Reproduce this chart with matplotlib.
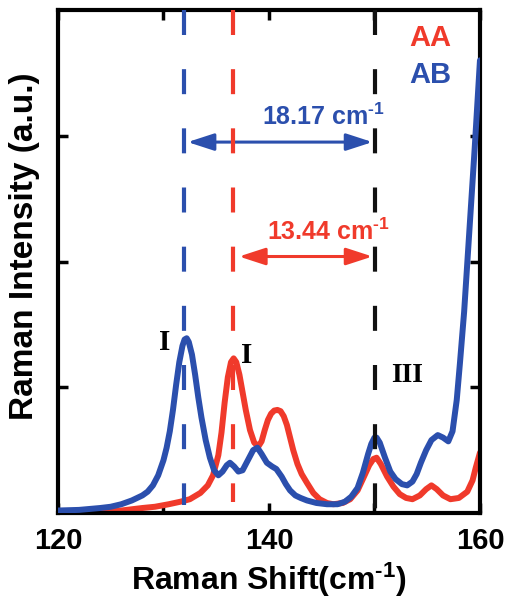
import matplotlib
matplotlib.use("Agg")
import matplotlib.pyplot as plt

# ---- spectra (Raman shift in cm^-1, intensity in a.u.) ----
ab_shift = [120, 122, 124, 125, 126, 127, 128, 128.5, 129, 129.5, 130, 130.3,
            130.6, 130.9, 131.2, 131.5, 131.8, 132.0, 132.2, 132.4, 132.7,
            133.0, 133.3, 133.6, 134.0, 134.4, 134.8, 135.2, 135.6, 136.0,
            136.3, 136.7, 137.1, 137.5, 138.0, 138.5, 138.9, 139.3, 139.8,
            140.3, 140.7, 141.2, 141.6, 142.0, 142.5, 143.0, 143.6, 144.5,
            145.5, 146.5, 147.2, 147.8, 148.4, 148.9, 149.4, 149.7, 150.0,
            150.2, 150.5, 151.0, 151.5, 152.0, 152.6, 153.1, 153.6, 154.0,
            154.4, 154.9, 155.4, 156.0, 156.5, 157.0, 157.4, 157.8, 158.1,
            158.5, 158.8, 159.2, 159.5, 159.7, 160.0]
ab_intensity = [0.02, 0.025, 0.04, 0.05, 0.07, 0.10, 0.14, 0.17, 0.22, 0.30,
                0.42, 0.52, 0.65, 0.82, 1.02, 1.20, 1.33, 1.38, 1.39, 1.36,
                1.26, 1.10, 0.92, 0.76, 0.58, 0.44, 0.34, 0.30, 0.33, 0.38,
                0.40, 0.37, 0.33, 0.34, 0.42, 0.50, 0.52, 0.47, 0.40, 0.37,
                0.35, 0.29, 0.23, 0.18, 0.14, 0.12, 0.10, 0.08, 0.07, 0.07,
                0.09, 0.13, 0.20, 0.32, 0.47, 0.55, 0.60, 0.60, 0.56, 0.44,
                0.33, 0.27, 0.23, 0.22, 0.25, 0.31, 0.40, 0.50, 0.58, 0.62,
                0.60, 0.57, 0.65, 0.90, 1.19, 1.60, 1.99, 2.51, 2.90, 3.18,
                3.60]

aa_shift = [120, 124, 126, 128, 129.2, 130.5, 131.6, 132.5, 133.5, 134.2,
            134.7, 135.2, 135.5, 135.8, 136.1, 136.4, 136.65, 136.9, 137.2,
            137.5, 137.8, 138.2, 138.6, 139.0, 139.3, 139.6, 139.9, 140.2,
            140.5, 140.8, 141.1, 141.4, 141.7, 142.0, 142.3, 142.7, 143.1,
            143.6, 144.2, 144.8, 145.5, 146.1, 147.0, 147.7, 148.4, 148.9,
            149.5, 149.9, 150.2, 150.6, 151.2, 151.8, 152.4, 153.0, 153.6,
            154.3, 154.9, 155.4, 155.9, 156.5, 157.2, 158.0, 158.8, 159.3,
            159.6, 160.0]
aa_intensity = [0.01, 0.01, 0.02, 0.04, 0.05, 0.07, 0.09, 0.11, 0.16, 0.22,
                0.30, 0.46, 0.64, 0.88, 1.08, 1.20, 1.23, 1.20, 1.10, 0.96,
                0.82, 0.66, 0.56, 0.53, 0.57, 0.66, 0.74, 0.79, 0.815, 0.82,
                0.81, 0.77, 0.70, 0.60, 0.50, 0.39, 0.31, 0.24, 0.16, 0.11,
                0.08, 0.07, 0.08, 0.11, 0.18, 0.27, 0.38, 0.43, 0.44, 0.39,
                0.29, 0.21, 0.15, 0.12, 0.11, 0.14, 0.19, 0.22, 0.19, 0.14,
                0.11, 0.12, 0.17, 0.26, 0.36, 0.48]

# mode I positions and the reference mode III
ab_mode_I = 131.90
aa_mode_I = 136.63
mode_III = 150.07
ab_split = "18.17"
aa_split = "13.44"

RED = "#f03a2b"
BLUE = "#2b4fad"

plt.rcParams['font.family'] = ['Liberation Sans', 'DejaVu Sans']
plt.rcParams['font.weight'] = 'bold'
plt.rcParams['mathtext.fontset'] = 'custom'
plt.rcParams['mathtext.rm'] = 'Liberation Sans:bold'
plt.rcParams['mathtext.bf'] = 'Liberation Sans:bold'
plt.rcParams['mathtext.default'] = 'bf'

SUP = r'$^{\text{-}1}$'

fig = plt.figure(figsize=(5.2, 6.05), dpi=100)
ax = fig.add_axes([0.1115, 0.152, 0.8115, 0.8314])

ax.plot(aa_shift, aa_intensity, color=RED, lw=4.3, solid_capstyle='round',
        solid_joinstyle='round', zorder=2)
ax.plot(ab_shift, ab_intensity, color=BLUE, lw=4.3, solid_capstyle='round',
        solid_joinstyle='round', zorder=3)

# dashed markers for mode positions
for xpos, ylow, col in [(ab_mode_I, 0.06, BLUE), (aa_mode_I, 0.09, RED), (mode_III, 0.0, '#111111')]:
    ln, = ax.plot([xpos, xpos], [4.0, ylow], color=col, lw=3.0, zorder=4)
    ln.set_dashes((6.0, 8.2))

# splitting arrows
head = '<|-|>,head_length=0.8,head_width=0.26'
ax.annotate('', xy=(ab_mode_I, 2.95), xytext=(mode_III, 2.95),
            arrowprops=dict(arrowstyle=head, color=BLUE, lw=2.2,
                            mutation_scale=20, shrinkA=2, shrinkB=3))
ax.annotate('', xy=(aa_mode_I, 2.04), xytext=(mode_III, 2.04),
            arrowprops=dict(arrowstyle=head, color=RED, lw=2.2,
                            mutation_scale=20, shrinkA=2, shrinkB=4))
ax.text(139.3, 3.085, ab_split + ' cm' + SUP, color=BLUE, fontsize=18,
        fontweight='bold', ha='left', va='baseline')
ax.text(139.8, 2.17, aa_split + ' cm' + SUP, color=RED, fontsize=18,
        fontweight='bold', ha='left', va='baseline')

# legend labels
ax.text(155.3, 3.78, 'AA', color=RED, fontsize=21, fontweight='bold', ha='center', va='center')
ax.text(155.3, 3.48, 'AB', color=BLUE, fontsize=21, fontweight='bold', ha='center', va='center')

# peak labels
serif = ['Liberation Serif', 'DejaVu Serif']
ax.text(130.1, 1.36, 'I', family=serif, fontsize=21, fontweight='bold', ha='center', va='center')
ax.text(137.9, 1.25, 'I', family=serif, fontsize=21, fontweight='bold', ha='center', va='center')
ax.text(153.1, 1.09, 'III', family=serif, fontsize=20, fontweight='bold', ha='center', va='center')

ax.set_xlim(120, 160)
ax.set_ylim(0, 4)
ax.set_xticks([120, 130, 140, 150, 160], ['120', '', '140', '', '160'])
ax.set_yticks([1, 2, 3], ['', '', ''])
ax.tick_params(direction='in', length=7, width=2.5, top=True, right=True,
               labelsize=21, pad=10)
for sp in ax.spines.values():
    sp.set_linewidth(3.0)

ax.set_xlabel('Raman Shift(cm' + SUP + ')', fontsize=23, fontweight='bold', labelpad=4)
ax.set_ylabel('Raman Intensity (a.u.)', fontsize=24, fontweight='bold')
ax.yaxis.set_label_coords(-0.043, 0.53)

fig.savefig('out.png', dpi=100)
